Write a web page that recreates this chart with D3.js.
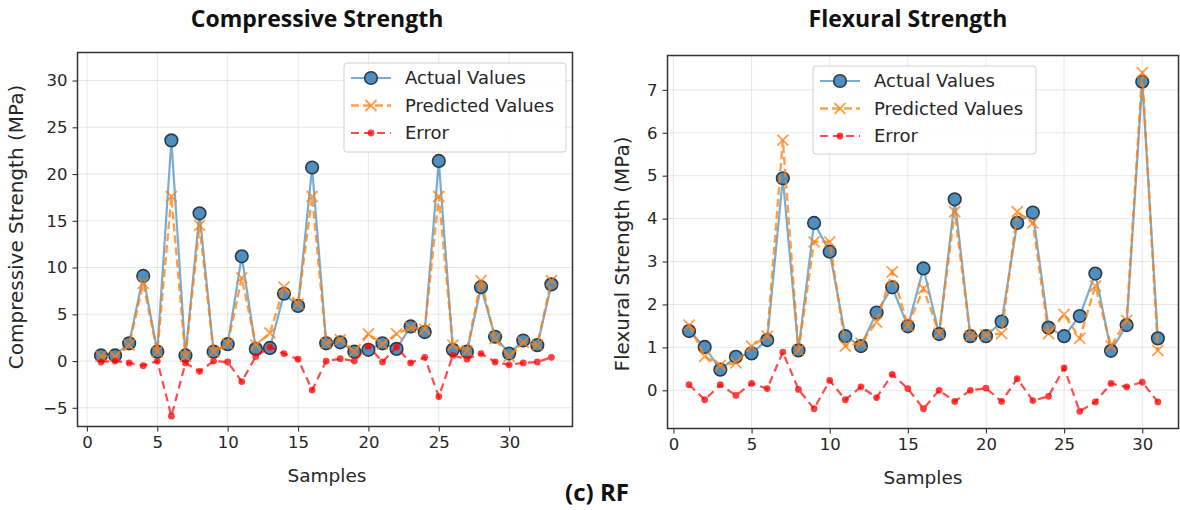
<!DOCTYPE html>
<html>
<head>
<meta charset="utf-8">
<script src="https://cdn.jsdelivr.net/npm/d3@7"></script>
<style>
  html, body { margin: 0; padding: 0; background: #fff; }
  svg { display: block; }
</style>
</head>
<body>
<svg id="fig" width="1180" height="510"></svg>
<script>
// ---- Compressive strength (RF model), samples 1..33 ----
const csActual = [0.6, 0.6, 1.9, 9.1, 1.0, 23.6, 0.6, 15.8, 1.0, 1.8, 11.2, 1.3, 1.4, 7.2, 5.9, 20.7, 1.9,
                  2.0, 1.0, 1.2, 1.9, 1.3, 3.7, 3.1, 21.4, 1.2, 1.0, 7.9, 2.6, 0.8, 2.2, 1.7, 8.2];
const csPredicted = [0.5, 0.5, 1.7, 8.3, 1.0, 17.6, 0.5, 14.5, 1.0, 1.8, 8.9, 1.7, 3.0, 7.9, 6.1, 17.6, 1.9,
                     2.3, 1.0, 2.9, 1.8, 2.9, 3.6, 3.4, 17.6, 1.7, 1.1, 8.6, 2.4, 0.5, 2.0, 1.7, 8.6];
const csError = [-0.1, 0.0, -0.2, -0.5, 0.0, -5.9, -0.2, -1.1, 0.0, -0.1, -2.2, 0.5, 1.5, 0.8, 0.2, -3.1, 0.0,
                 0.25, 0.0, 1.6, -0.1, 1.5, -0.2, 0.4, -3.8, 0.6, 0.2, 0.8, -0.1, -0.4, -0.2, -0.1, 0.4];
const csXTicks = [0, 5, 10, 15, 20, 25, 30];
const csYTicks = [-5, 0, 5, 10, 15, 20, 25, 30];

// ---- Flexural strength (RF model), samples 1..31 ----
const fsActual = [1.38, 1.01, 0.48, 0.78, 0.86, 1.17, 4.94, 0.93, 3.9, 3.23, 1.26, 1.03, 1.81, 2.4, 1.49, 2.84,
                  1.31, 4.45, 1.26, 1.26, 1.6, 3.9, 4.14, 1.46, 1.26, 1.73, 2.72, 0.92, 1.52, 7.19, 1.21];
const fsPredicted = [1.52, 0.79, 0.58, 0.64, 1.03, 1.26, 5.83, 0.93, 3.46, 3.46, 1.03, 1.1, 1.59, 2.76, 1.5, 2.37,
                     1.33, 4.16, 1.26, 1.29, 1.32, 4.16, 3.9, 1.32, 1.77, 1.21, 2.43, 1.03, 1.63, 7.4, 0.93];
const fsError = [0.13, -0.22, 0.13, -0.12, 0.16, 0.04, 0.89, 0.02, -0.43, 0.23, -0.22, 0.08, -0.17, 0.37, 0.04, -0.43,
                 0.0, -0.26, 0.0, 0.05, -0.26, 0.27, -0.24, -0.14, 0.52, -0.49, -0.27, 0.16, 0.08, 0.19, -0.27];
const fsXTicks = [0, 5, 10, 15, 20, 25, 30];
const fsYTicks = [0, 1, 2, 3, 4, 5, 6, 7];

const legendLabels = ["Actual Values", "Predicted Values", "Error"];

const svg = d3.select("#fig");
const FONT = "'DejaVu Sans', sans-serif";
const TITLE_FONT = "'Open Sans', 'Noto Sans', sans-serif";

const BLUE = "#1f77b4", ORANGE = "#ff7f0e", RED = "#ff0000";

function panel(cfg) {
  const g = svg.append("g");
  const x = d3.scaleLinear().domain(cfg.xDomain).range([cfg.left, cfg.right]);
  const y = d3.scaleLinear().domain(cfg.yDomain).range([cfg.bottom, cfg.top]);

  // grid
  const grid = g.append("g").attr("stroke", "#b0b0b0").attr("stroke-opacity", 0.3).attr("stroke-width", 1);
  cfg.xTicks.forEach(t => grid.append("line")
    .attr("x1", x(t)).attr("x2", x(t)).attr("y1", cfg.top).attr("y2", cfg.bottom));
  cfg.yTicks.forEach(t => grid.append("line")
    .attr("x1", cfg.left).attr("x2", cfg.right).attr("y1", y(t)).attr("y2", y(t)));

  // axes
  const xAxis = d3.axisBottom(x).tickValues(cfg.xTicks).tickSize(5).tickPadding(5).tickFormat(d3.format("d"));
  const yAxis = d3.axisLeft(y).tickValues(cfg.yTicks).tickSize(5).tickPadding(5)
    .tickFormat(d => d < 0 ? "\u2212" + Math.abs(d) : String(d));
  const gx = g.append("g").attr("transform", `translate(0,${cfg.bottom})`).call(xAxis);
  const gy = g.append("g").attr("transform", `translate(${cfg.left},0)`).call(yAxis);
  [gx, gy].forEach(a => {
    a.select(".domain").remove();
    a.selectAll(".tick line").attr("stroke", "#333").attr("stroke-width", 1.1);
    a.selectAll(".tick text").attr("fill", "#262626").style("font-family", FONT).style("font-size", "16.5px");
  });

  const series = (vals) => vals.map((v, k) => ({ i: k + 1, v }));
  const line = d3.line().x(d => x(d.i)).y(d => y(d.v));

  const plot = g.append("g");

  // actual values
  const act = series(cfg.actual);
  plot.append("path").datum(act).attr("d", line).attr("fill", "none")
    .attr("stroke", BLUE).attr("stroke-opacity", 0.6).attr("stroke-width", 2.2);
  plot.selectAll(".act").data(act).join("circle")
    .attr("cx", d => x(d.i)).attr("cy", d => y(d.v)).attr("r", 6.3)
    .attr("fill", "#4f8fc0").attr("stroke", "#2b3a48").attr("stroke-width", 1.6);

  // predicted values
  const pre = series(cfg.predicted);
  plot.append("path").datum(pre).attr("d", line).attr("fill", "none")
    .attr("stroke", ORANGE).attr("stroke-opacity", 0.75).attr("stroke-width", 2.4)
    .attr("stroke-dasharray", "8,4");
  const xs = 5.5;
  plot.selectAll(".pre").data(pre).join("path")
    .attr("d", d => `M${x(d.i) - xs},${y(d.v) - xs}L${x(d.i) + xs},${y(d.v) + xs}M${x(d.i) - xs},${y(d.v) + xs}L${x(d.i) + xs},${y(d.v) - xs}`)
    .attr("stroke", ORANGE).attr("stroke-opacity", 0.75).attr("stroke-width", 1.8).attr("fill", "none");

  // error
  const err = series(cfg.error);
  plot.append("path").datum(err).attr("d", line).attr("fill", "none")
    .attr("stroke", RED).attr("stroke-opacity", 0.7).attr("stroke-width", 2.2)
    .attr("stroke-dasharray", "8,5");
  plot.selectAll(".err").data(err).join("circle")
    .attr("cx", d => x(d.i)).attr("cy", d => y(d.v)).attr("r", 3.4)
    .attr("fill", RED).attr("fill-opacity", 0.75);

  // frame
  g.append("rect").attr("x", cfg.left).attr("y", cfg.top)
    .attr("width", cfg.right - cfg.left).attr("height", cfg.bottom - cfg.top)
    .attr("fill", "none").attr("stroke", "#333").attr("stroke-width", 1.5);

  // legend
  const L = cfg.legend;
  const lg = g.append("g");
  lg.append("rect").attr("x", L.x).attr("y", L.y).attr("width", L.w).attr("height", L.h)
    .attr("rx", 3).attr("fill", "#fff").attr("fill-opacity", 0.85)
    .attr("stroke", "#d0d0d0").attr("stroke-width", 1);
  const hx0 = L.x + 7, hx1 = L.x + 47, hm = (hx0 + hx1) / 2;
  legendLabels.forEach((lab, k) => {
    const yy = L.y + 15 + k * 27.5;
    const row = lg.append("g");
    if (k === 0) {
      row.append("line").attr("x1", hx0).attr("x2", hx1).attr("y1", yy).attr("y2", yy)
        .attr("stroke", BLUE).attr("stroke-opacity", 0.6).attr("stroke-width", 2.2);
      row.append("circle").attr("cx", hm).attr("cy", yy).attr("r", 6.3)
        .attr("fill", "#4f8fc0").attr("stroke", "#2b3a48").attr("stroke-width", 1.6);
    } else if (k === 1) {
      row.append("line").attr("x1", hx0).attr("x2", hx1).attr("y1", yy).attr("y2", yy)
        .attr("stroke", ORANGE).attr("stroke-opacity", 0.75).attr("stroke-width", 2.4)
        .attr("stroke-dasharray", "8,4");
      row.append("path")
        .attr("d", `M${hm - xs},${yy - xs}L${hm + xs},${yy + xs}M${hm - xs},${yy + xs}L${hm + xs},${yy - xs}`)
        .attr("stroke", ORANGE).attr("stroke-opacity", 0.75).attr("stroke-width", 1.8);
    } else {
      row.append("line").attr("x1", hx0).attr("x2", hx1).attr("y1", yy).attr("y2", yy)
        .attr("stroke", RED).attr("stroke-opacity", 0.7).attr("stroke-width", 2.2)
        .attr("stroke-dasharray", "8,5");
      row.append("circle").attr("cx", hm).attr("cy", yy).attr("r", 3.4)
        .attr("fill", RED).attr("fill-opacity", 0.75);
    }
    row.append("text").attr("x", L.x + 61).attr("y", yy).attr("dy", "0.36em")
      .style("font-family", FONT).style("font-size", "18px").attr("fill", "#262626").text(lab);
  });

  // axis titles
  g.append("text").attr("x", (cfg.left + cfg.right) / 2 + cfg.xLabelShift).attr("y", cfg.bottom + 55)
    .attr("text-anchor", "middle").style("font-family", FONT).style("font-size", "18.5px")
    .attr("fill", "#262626").text("Samples");
  g.append("text")
    .attr("transform", `translate(${cfg.yLabelX},${cfg.yLabelY}) rotate(-90)`)
    .attr("text-anchor", "middle").style("font-family", FONT).style("font-size", cfg.yLabelSize)
    .attr("fill", "#262626").text(cfg.yLabel);

  // panel title
  g.append("text").attr("x", cfg.titleX).attr("y", 27)
    .attr("text-anchor", "middle").style("font-family", TITLE_FONT).style("font-weight", 700)
    .style("font-size", "23px").attr("fill", "#111").text(cfg.title);
}

panel({
  title: "Compressive Strength", titleX: 317,
  left: 77.5, right: 572.5, top: 52.5, bottom: 426.5,
  xDomain: [-0.67, 34.5], yDomain: [-7, 33],
  xTicks: csXTicks, yTicks: csYTicks,
  actual: csActual, predicted: csPredicted, error: csError,
  legend: { x: 344, y: 63, w: 222, h: 89 },
  yLabel: "Compressive Strength (MPa)", yLabelX: 23, yLabelY: 227, yLabelSize: "20px",
  xLabelShift: 2
});

panel({
  title: "Flexural Strength", titleX: 908,
  left: 667.5, right: 1178.5, top: 55.5, bottom: 428.5,
  xDomain: [-0.38, 32.32], yDomain: [-0.89, 7.8],
  xTicks: fsXTicks, yTicks: fsYTicks,
  actual: fsActual, predicted: fsPredicted, error: fsError,
  legend: { x: 813, y: 66, w: 223, h: 88 },
  yLabel: "Flexural Strength (MPa)", yLabelX: 629, yLabelY: 254, yLabelSize: "20px",
  xLabelShift: 0
});

// figure caption
svg.append("text").attr("x", 597).attr("y", 501).attr("text-anchor", "middle")
  .style("font-family", TITLE_FONT).style("font-weight", 700).style("font-size", "24px")
  .attr("fill", "#111").text("(c) RF");
</script>
</body>
</html>
